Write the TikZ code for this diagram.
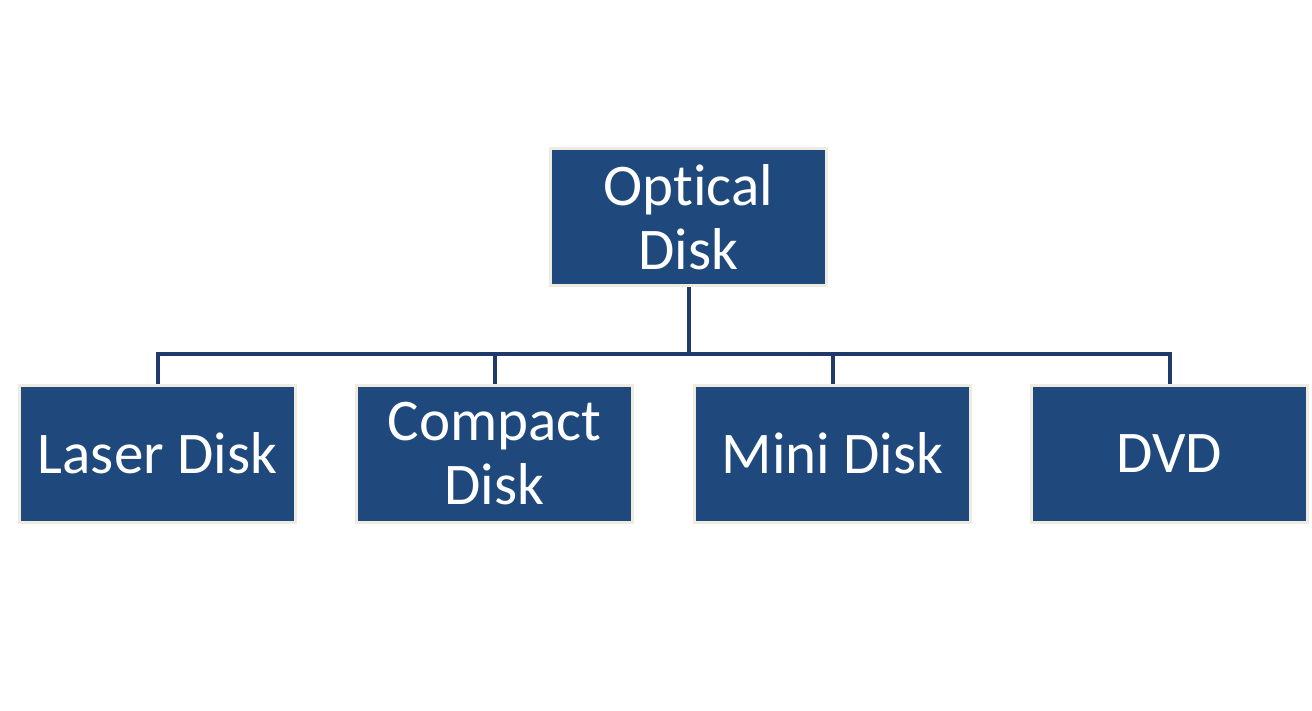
\documentclass[tikz,border=0pt]{standalone}
\usepackage{fontspec}
\setmainfont{Carlito}[Ligatures=NoCommon]
\usepackage{tikz}
\usepackage{xcolor}
\definecolor{diskblue}{HTML}{1F497D}
\definecolor{diskrim}{HTML}{EEECE1}
\definecolor{linkblue}{HTML}{1F3A68}

\begin{document}
\begin{tikzpicture}[
  diskbox/.style={draw=diskrim, line width=0.06cm, fill=diskblue, text=white,
    minimum width=5.52cm, minimum height=2.74cm, align=center,
    font=\fontsize{33.6}{36.5}\selectfont},
  link/.style={draw=linkblue, line width=0.08cm}]
\useasboundingbox (0,0) rectangle (26.24,-14.2);
\node[diskbox] (optical) at (13.77,-4.34) {Optical\\Disk};
\node[diskbox] (laser) at (3.15,-9.07) {Laser Disk};
\node[diskbox] (compact) at (9.89,-9.07) {Compact\\Disk};
\node[diskbox] (mini) at (16.65,-9.07) {Mini Disk};
\node[diskbox] (dvd) at (23.39,-9.07) {DVD};
\coordinate (bar) at (0,-7.08);
\draw[link] (optical.south) -- (optical.south |- bar);
\draw[link] (laser.north) -- (laser.north |- bar) -- (dvd.north |- bar) -- (dvd.north);
\draw[link] (compact.north) -- (compact.north |- bar);
\draw[link] (mini.north) -- (mini.north |- bar);
\end{tikzpicture}
\end{document}
